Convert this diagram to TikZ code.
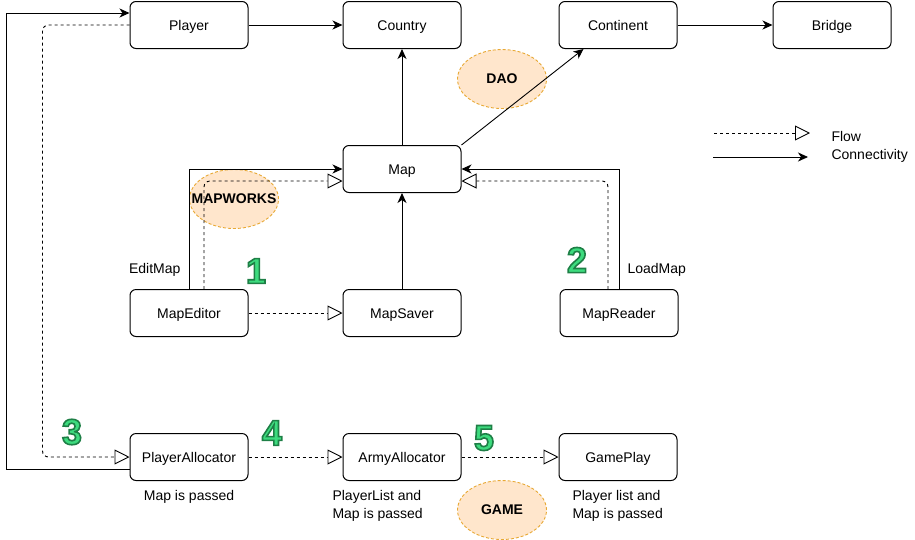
\documentclass[tikz,border=0pt]{standalone}
\usepackage{fontspec}
\setmainfont{Liberation Sans}
\usepackage{tikz}
\usetikzlibrary{positioning}
\usetikzlibrary{calc}
\usetikzlibrary{arrows.meta}
\usetikzlibrary{shapes}
\definecolor{orangefill}{HTML}{FFE6CC}
\definecolor{orangeline}{HTML}{E8A935}
\definecolor{numgreen}{HTML}{3DDB7E}
\newcommand\stepnum[1]{\special{pdf:literal direct 2 Tr 1.6 w 0.118 0.498 0.275 RG}#1\special{pdf:literal direct 0 Tr}}

\begin{document}
\begin{tikzpicture}[x=1pt,y=-1pt,
	every node/.style={font=\fontsize{14}{18}\selectfont},
	box/.style={draw,line width=1pt,rounded corners=6pt,minimum width=118pt,minimum height=47pt,inner sep=0pt,text height=10pt,text depth=0pt},
	conn/.style={-{Stealth[length=10pt,width=9pt,inset=3pt]},line width=0.9pt},
	flow/.style={-{Triangle[open,length=15pt,width=15pt,fill=white]},dash pattern=on 3pt off 3pt,line width=0.9pt},
	pkg/.style={ellipse,draw=orangeline,fill=orangefill,dash pattern=on 3pt off 2pt,line width=0.9pt,minimum width=89pt,minimum height=59pt,inner sep=0pt},
	pkgtext/.style={font=\fontsize{14}{18}\selectfont\bfseries},
	num/.style={text=numgreen,inner sep=0pt,font=\fontsize{36}{40}\selectfont\bfseries}]
		\useasboundingbox (0,0) rectangle (915,539);
		\node [pkg,label={[pkgtext]center:MAPWORKS}] (mapworks) at (234,199) {};
		\node [pkg,label={[pkgtext]center:DAO}] (dao) at (502,79) {};
		\node [pkg,label={[pkgtext]center:GAME}] (game) at (502,510) {};
		\node [box] (player) at (189,25) {Player};
		\node [box] (country) at (402,25) {Country};
		\node [box] (continent) at (618,25) {Continent};
		\node [box] (bridge) at (832,25) {Bridge};
		\node [box] (map) at (402,169) {Map};
		\node [box] (map_editor) at (189,313) {MapEditor};
		\node [box] (map_saver) at (402,313) {MapSaver};
		\node [box] (map_reader) at (619,313) {MapReader};
		\node [box] (player_alloc) at (189,457) {PlayerAllocator};
		\node [box] (army_alloc) at (402,457) {ArmyAllocator};
		\node [box] (game_play) at (618,457) {GamePlay};
		\draw [conn] (player) -- (country);
		\draw [conn] (continent) -- (bridge);
		\draw [conn] (map) -- (country);
		\draw [conn] (map.north east) -- ($(continent.south west)+(25,0)$);
		\draw [conn] (map_saver) -- (map);
		\draw [conn] (map_editor.north) |- (map.west);
		\draw [flow,rounded corners=6pt] ($(map_editor.north)+(15,0)$) |- ($(map.west)+(0,12)$);
		\draw [conn] (map_reader.north) |- (map.east);
		\draw [flow,rounded corners=6pt] ($(map_reader.north)+(-11,0)$) |- ($(map.east)+(0,12)$);
		\draw [flow] (map_editor) -- (map_saver);
		\draw [conn] ($(player_alloc.west)+(0,12)$) -- +(-123,0) |- ($(player.west)+(0,-12)$);
		\draw [flow,rounded corners=6pt] (player.west) -- +(-87,0) |- (player_alloc.west);
		\draw [flow] (player_alloc) -- (army_alloc);
		\draw [flow] (army_alloc) -- (game_play);
		\node [anchor=east] (edit_lbl) at (184,270) {EditMap};
		\node [anchor=west] (load_lbl) at (624,270) {LoadMap};
		\node (pa_lbl) at (189,497) {Map is passed};
		\node [anchor=west,align=left] (aa_lbl) at (329,506) {PlayerList and\\Map is passed};
		\node [anchor=west,align=left] (gp_lbl) at (569,506) {Player list and\\Map is passed};
		\node [num] (one) at (256,271) {\stepnum{1}};
		\node [num] (two) at (577,260) {\stepnum{2}};
		\node [num] (three) at (72,432) {\stepnum{3}};
		\node [num] (four) at (272,433) {\stepnum{4}};
		\node [num] (five) at (484,438) {\stepnum{5}};
		\coordinate (flow_a) at (714,133);
		\coordinate (flow_b) at (810,133);
		\coordinate (conn_a) at (713,157);
		\coordinate (conn_b) at (808,157);
		\draw [flow] (flow_a) -- (flow_b);
		\draw [conn] (conn_a) -- (conn_b);
		\node [anchor=west,align=left] (legend) at (828,147) {Flow\\Connectivity};
	\end{tikzpicture}
\end{document}
